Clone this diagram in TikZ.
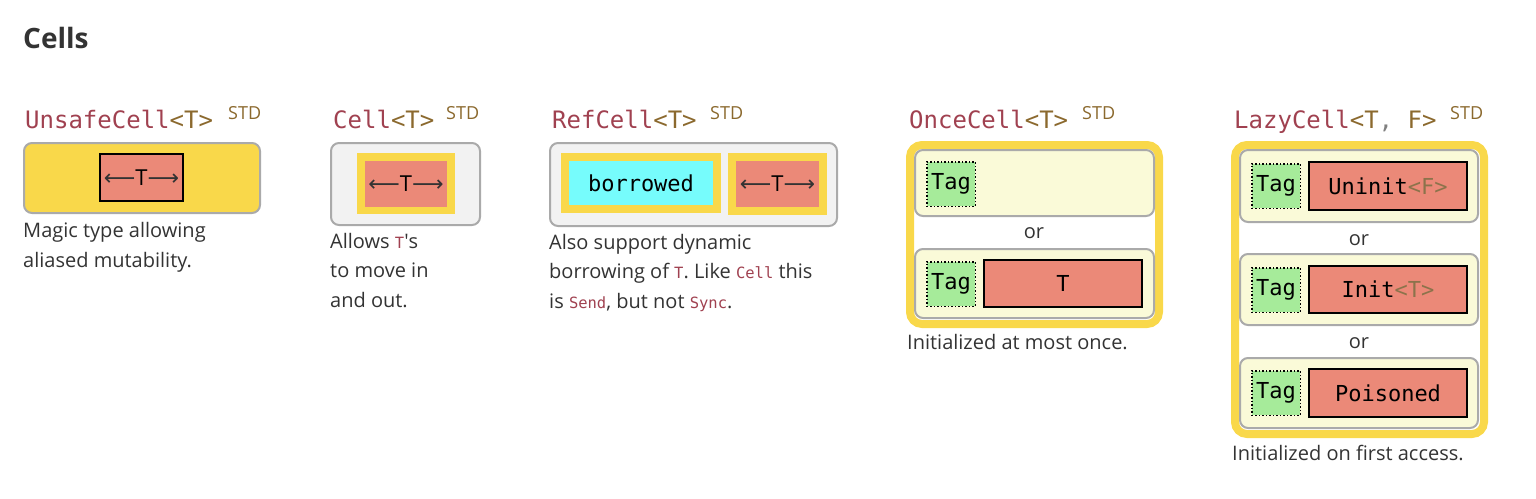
\documentclass[tikz,border=0pt]{standalone}
\usepackage{fontspec}
\setmainfont{Open Sans}
\newfontfamily\codefont{DejaVu Sans Mono}
\newfontfamily\symfont{DejaVu Sans}
\usetikzlibrary{positioning}

\definecolor{cyellow}{RGB}{249,216,74}
\definecolor{csalmon}{RGB}{235,137,120}
\definecolor{ccyan}{RGB}{118,252,252}
\definecolor{cgreen}{RGB}{166,235,154}
\definecolor{cpale}{RGB}{250,250,216}
\definecolor{cshade}{RGB}{242,242,242}
\definecolor{cborder}{RGB}{170,170,170}
\definecolor{ctext}{RGB}{51,51,51}
\definecolor{cred}{RGB}{160,65,80}
\definecolor{cbrown}{RGB}{139,105,46}
\definecolor{cgen}{RGB}{140,115,75}

\newcommand\gen[1]{{\color{cbrown}#1}}
\newcommand\ic[1]{{\codefont\fontsize{15.5}{18}\selectfont\color{cred}#1}}
\newcommand\Tarr{{\color{ctext}\symfont\char"27F5}T{\color{ctext}\symfont\char"27F6}}

\begin{document}
\begin{tikzpicture}[x=1pt,y=-1pt,
cellbox/.style={draw=cborder,line width=2pt,rounded corners=8pt,anchor=north west,inner sep=0pt},
rowbox/.style={cellbox,fill=cpale},
outerbox/.style={draw=cyellow,line width=8pt,rounded corners=12pt,fill=white,anchor=north west,inner sep=0pt},
frame/.style={fill=cyellow,anchor=north west,inner sep=0pt,outer sep=0pt},
valbox/.style={fill=csalmon,anchor=north west,inner sep=0pt,outer sep=0pt,font=\fontsize{22}{26}\selectfont},
codebox/.style={fill=csalmon,draw=black,line width=2pt,anchor=north west,inner sep=0pt,font=\codefont\fontsize{22}{26}\selectfont},
tagbox/.style={fill=cgreen,draw=black,line width=1.5pt,dotted,anchor=north west,inner sep=0pt,
  minimum width=48.5,minimum height=44.5,font=\codefont\fontsize{22}{26}\selectfont},
hdr/.style={anchor=base west,inner sep=0pt,text=cred,font=\codefont\fontsize{24}{28}\selectfont},
std/.style={anchor=base west,inner sep=0pt,text=cbrown,font=\fontsize{18}{22}\selectfont},
desc/.style={anchor=base west,inner sep=0pt,text=ctext,align=left,font=\fontsize{20}{29.5}\selectfont},
ortext/.style={anchor=base,inner sep=0pt,text=ctext,font=\fontsize{20}{24}\selectfont}]
\useasboundingbox (0,0) rectangle (1536,498);

\node[anchor=base west,inner sep=0pt,text=ctext,font=\bfseries\fontsize{28}{34}\selectfont] (cells) at (23,48) {Cells};

% UnsafeCell
\node[hdr] (unsafeh) at (25,128) {UnsafeCell\gen{<T>}};
\node[std] (unsafes) at (228,119) {STD};
\node[cellbox,fill=cyellow,minimum width=236,minimum height=70] (unsafe) at (23,142) {};
\node[valbox,draw=black,line width=2pt,outer sep=1pt,minimum width=83,minimum height=47] (unsafet) at (99,153) {\Tarr};
\node[desc] (unsafed) at (23,267) {Magic type allowing\\aliased mutability.};

% Cell
\node[hdr] (cellh) at (333,128) {Cell\gen{<T>}};
\node[std] (cells2) at (446,119) {STD};
\node[cellbox,fill=cshade,minimum width=149,minimum height=82] (cell) at (330,142) {};
\node[frame,minimum width=98,minimum height=61] (cellf) at (357,153) {};
\node[valbox,minimum width=82,minimum height=46] (cellt) at (365,161) {\Tarr};
\node[desc] (celld) at (330,307) {Allows \ic{T}\textquotesingle s\\to move in\\and out.};

% RefCell
\node[hdr] (refh) at (552,128) {RefCell\gen{<T>}};
\node[std] (refs) at (710,119) {STD};
\node[cellbox,fill=cshade,minimum width=287,minimum height=83] (ref) at (549,142) {};
\node[frame,minimum width=160,minimum height=60] (reff1) at (561,153) {};
\node[fill=ccyan,anchor=north west,inner sep=0pt,outer sep=0pt,minimum width=144,minimum height=44,
  font=\codefont\fontsize{22}{26}\selectfont] (refb) at (569,161) {borrowed};
\node[frame,minimum width=99,minimum height=62] (reff2) at (728,153) {};
\node[valbox,minimum width=83,minimum height=46] (reft) at (736,161) {\Tarr};
\node[desc] (refd) at (549,308) {Also support dynamic\\borrowing of \ic{T}. Like \ic{Cell} this\\is \ic{Send}, but not \ic{Sync}.};

% OnceCell
\node[hdr] (onceh) at (909,128) {OnceCell\gen{<T>}};
\node[std] (onces) at (1082,119) {STD};
\node[outerbox,minimum width=249,minimum height=179] (once) at (906,141) {};
\node[rowbox,minimum width=239,minimum height=66] (once1) at (914,149) {};
\node[tagbox] (oncetag1) at (926,161) {Tag};
\node[ortext] (onceor) at (1034,238) {or};
\node[rowbox,minimum width=239,minimum height=69] (once2) at (914,248) {};
\node[tagbox] (oncetag2) at (926,261) {Tag};
\node[codebox,minimum width=158,minimum height=47] (oncet) at (983,259) {T};
\node[desc] (onced) at (907,349) {Initialized at most once.};

% LazyCell
\node[hdr] (lazyh) at (1234,128) {LazyCell\gen{<T}{\color{gray},} \gen{F>}};
\node[std] (lazys) at (1450,119) {STD};
\node[outerbox,minimum width=249,minimum height=289] (lazy) at (1231,141) {};
\node[rowbox,minimum width=238,minimum height=72] (lazy1) at (1239,149) {};
\node[tagbox] (lazytag1) at (1251,163) {Tag};
\node[codebox,minimum width=158,minimum height=48] (lazyv1) at (1308,161) {Uninit{\color{cgen}<F>}};
\node[ortext] (lazyor1) at (1359,245) {or};
\node[rowbox,minimum width=238,minimum height=71] (lazy2) at (1239,253) {};
\node[tagbox] (lazytag2) at (1251,267) {Tag};
\node[codebox,minimum width=158,minimum height=47] (lazyv2) at (1308,265) {Init{\color{cgen}<T>}};
\node[ortext] (lazyor2) at (1359,348) {or};
\node[rowbox,minimum width=238,minimum height=70] (lazy3) at (1239,357) {};
\node[tagbox] (lazytag3) at (1251,370) {Tag};
\node[codebox,minimum width=158,minimum height=48] (lazyv3) at (1308,368) {Poisoned};
\node[desc] (lazyd) at (1232,460) {Initialized on first access.};
\end{tikzpicture}
\end{document}
